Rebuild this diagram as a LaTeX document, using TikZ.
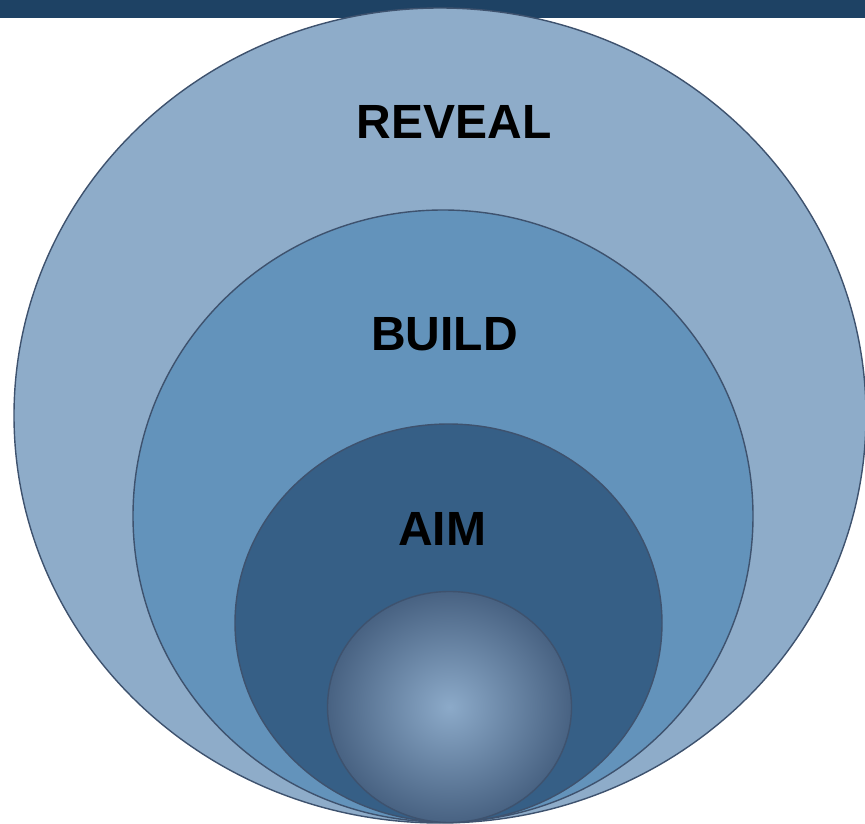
\documentclass[tikz,border=0pt]{standalone}
\usepackage{fontspec}
\setmainfont{Liberation Sans}
\usetikzlibrary{shapes.geometric}

\definecolor{barblue}{RGB}{30,66,100}
\definecolor{revealblue}{RGB}{142,172,201}
\definecolor{buildblue}{RGB}{99,147,187}
\definecolor{aimblue}{RGB}{54,95,134}
\definecolor{rimblue}{RGB}{62,82,110}
\definecolor{corelight}{RGB}{140,170,201}
\definecolor{coredark}{RGB}{72,98,130}

\tikzset{
	ring/.style={ellipse,draw=rimblue,line width=1.4pt,inner sep=0pt},
	word/.style={font=\bfseries\fontsize{48}{48}\selectfont,text=black}
}

\begin{document}
\begin{tikzpicture}[x=1pt,y=-1pt]
	
	\useasboundingbox (0,0) rectangle (865,824);
	
	% Draw the bar on top
	\fill[barblue] (0,0) rectangle (865,18.5);
	
	% Draw the rings, outside to inside
	\node[ring,fill=revealblue,minimum width=852pt,minimum height=815pt] (reveal) at (440,415.5) {};
	\node[ring,fill=buildblue,minimum width=620pt,minimum height=612pt] (build) at (443,516) {};
	\node[ring,fill=aimblue,minimum width=427pt,minimum height=398pt] (aim) at (448.5,623) {};
	\node[ring,inner color=corelight,outer color=coredark,minimum width=244pt,minimum height=231pt] (core) at (449.5,707) {};
	
	% Draw the labels
	\node[word] (revealtext) at (454,122) {REVEAL};
	\node[word] (buildtext) at (444.5,334) {BUILD};
	\node[word] (aimtext) at (442,529) {AIM};
	
\end{tikzpicture}
\end{document}
